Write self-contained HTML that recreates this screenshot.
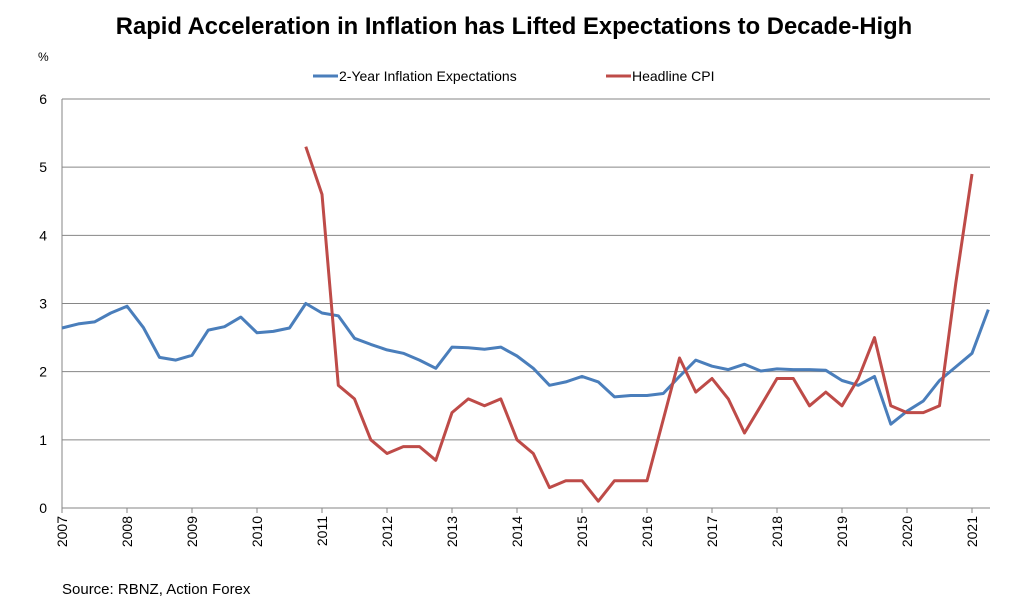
<!DOCTYPE html>
<html><head><meta charset="utf-8"><style>
body{margin:0;background:#fff;font-family:"Liberation Sans",Arial,sans-serif}
svg{display:block}
</style></head><body>
<svg width="1029" height="615">
<text x="514" y="34" text-anchor="middle" font-size="23.8" font-weight="bold">Rapid Acceleration in Inflation has Lifted Expectations to Decade-High</text>
<text x="38" y="61" font-size="12">%</text>
<g>
<line x1="313" y1="76" x2="338" y2="76" stroke="#4a7ebb" stroke-width="3"/>
<text x="339" y="81" font-size="14">2-Year Inflation Expectations</text>
<line x1="606" y1="76" x2="631" y2="76" stroke="#be4b48" stroke-width="3"/>
<text x="632" y="81" font-size="14">Headline CPI</text>
</g>
<g id="grid"></g><g id="axes"></g><g id="series"></g>
<text x="62" y="594" font-size="15">Source: RBNZ, Action Forex</text>
</svg>
<script>
const yTicks=[0,1,2,3,4,5,6];
const years=[2007,2008,2009,2010,2011,2012,2013,2014,2015,2016,2017,2018,2019,2020,2021];
const expStart=2007.0;
const expectations=[2.64,2.70,2.73,2.86,2.96,2.65,2.21,2.17,2.24,2.61,2.66,2.80,2.57,2.59,2.64,3.00,2.86,2.82,2.49,2.40,2.32,2.27,2.17,2.05,2.36,2.35,2.33,2.36,2.23,2.05,1.80,1.85,1.93,1.85,1.63,1.65,1.65,1.68,1.93,2.17,2.08,2.03,2.11,2.01,2.04,2.03,2.03,2.02,1.87,1.80,1.93,1.23,1.42,1.57,1.87,2.07,2.27,2.91];
const cpiStart=2010.75;
const cpi=[5.3,4.6,1.8,1.6,1.0,0.8,0.9,0.9,0.7,1.4,1.6,1.5,1.6,1.0,0.8,0.3,0.4,0.4,0.1,0.4,0.4,0.4,1.3,2.2,1.7,1.9,1.6,1.1,1.5,1.9,1.9,1.5,1.7,1.5,1.9,2.5,1.5,1.4,1.4,1.5,3.3,4.9];
const L=62,R=990,T=99,B=508;
const x=t=>L+(t-2007)*65;
const y=v=>B-(v/6)*(B-T);
const NS="http://www.w3.org/2000/svg";
function mk(tag,attrs,parent){const e=document.createElementNS(NS,tag);for(const k in attrs)e.setAttribute(k,attrs[k]);document.getElementById(parent).appendChild(e);return e;}
yTicks.forEach(v=>{
 if(v>0){const g=mk('line',{x1:L,x2:R,y1:y(v),y2:y(v),stroke:'#868686','stroke-width':1},'grid');
 
 }
 const t=mk('text',{x:L-15,y:y(v)+5,'font-size':14,'text-anchor':'end'},'axes');t.textContent=v;
 
 
});
let a=mk('line',{x1:L,x2:L,y1:T,y2:B,stroke:'#868686'},'axes');


a=mk('line',{x1:L,x2:R,y1:B,y2:B,stroke:'#868686'},'axes');


years.forEach(yr=>{
 const xx=x(yr);
 const tk=mk('line',{x1:xx,x2:xx,y1:B,y2:B+5,stroke:'#868686'},'axes');
 
 
 const t=mk('text',{x:0,y:0,'font-size':14,'text-anchor':'end',transform:`translate(${xx+5},${B+8}) rotate(-90)`},'axes');
 t.textContent=yr;
 
 
});
function line(data,start,color,name){
 const pts=data.map((v,i)=>x(start+i*0.25).toFixed(1)+','+y(v).toFixed(1)).join(' ');
 const p=mk('polyline',{points:pts,fill:'none',stroke:color,'stroke-width':3,'stroke-linejoin':'round'},'series');
 
 
}
line(expectations,expStart,'#4a7ebb','series-expectations');
line(cpi,cpiStart,'#be4b48','series-headline-cpi');
</script>
</body></html>
